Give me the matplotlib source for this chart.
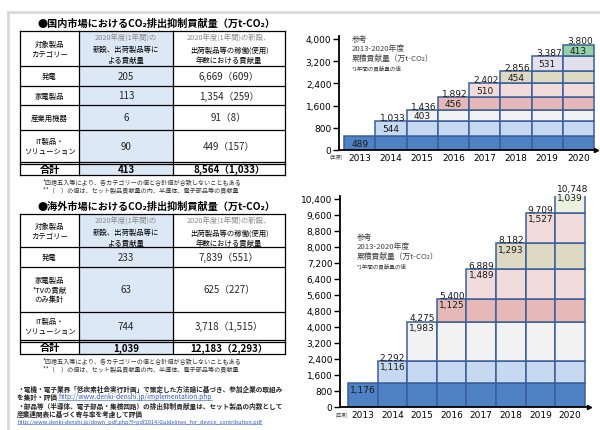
import numpy as np
import matplotlib
matplotlib.use('Agg')
import matplotlib.pyplot as plt
from matplotlib.patches import Rectangle
from matplotlib.lines import Line2D

JP = ['Noto Sans CJK JP', 'DejaVu Sans']
NUM = ['DejaVu Sans']
plt.rcParams['font.family'] = JP

# ---------------- data ----------------
years = ['2013', '2014', '2015', '2016', '2017', '2018', '2019', '2020']
dom_annual = [489, 544, 403, 456, 510, 454, 531, 413]
ovs_annual = [1176, 1116, 1983, 1125, 1489, 1293, 1527, 1039]
dom_yticks = [0, 800, 1600, 2400, 3200, 4000]
ovs_yticks = [0, 800, 1600, 2400, 3200, 4000, 4800, 5600, 6400, 7200, 8000, 8800, 9600, 10400]

dom_colors = ['#4f81c5', '#c6d9f0', '#f2f2f2', '#e6b9b8', '#f2dcdb', '#ddd9c3', '#e4dfec', '#92d2a6']
ovs_colors = ['#4f81c5', '#c6d9f0', '#f2f2f2', '#e6b9b8', '#f2dcdb', '#ddd9c3', '#f2dcdb', '#ebf1de']
edge_color = '#3b5f99'

header_cols = ['対象製品\nカテゴリー',
               ('2020年度(1年間)の', '新設、出荷製品等に\nよる貢献量'),
               ('2020年度(1年間)の新設、', '出荷製品等の稼働(使用)\n年数における貢献量')]

dom_title = '●国内市場におけるCO₂排出抑制貢献量（万t-CO₂）'
dom_cats = ['発電', '家電製品', '産業用機器', 'IT製品・\nソリューション']
dom_new = [205, 113, 6, 90]
dom_life = [6669, 1354, 91, 449]
dom_device = [609, 259, 8, 157]
dom_total = (413, 8564, 1033)

ovs_title = '●海外市場におけるCO₂排出抑制貢献量（万t-CO₂）'
ovs_cats = ['発電', '家電製品\n*TVの貢献\nのみ集計', 'IT製品・\nソリューション']
ovs_new = [233, 63, 744]
ovs_life = [7839, 625, 3718]
ovs_device = [551, 227, 1515]
ovs_total = (1039, 12183, 2293)

foot1 = '*四捨五入等により、各カテゴリーの値と合計値が合致しないこともある'
foot2 = '**（　）の値は、セット製品貢献量の内、半導体、電子部品等の貢献量'
notes = [('・電機・電子業界「低炭素社会実行計画」で策定した方法論に基づき、参加企業の取組み', None),
         ('を集計・評価 ', 'http://www.denki-denshi.jp/implementation.php'),
         ('・部品等（半導体、電子部品・集積回路）の排出抑制貢献量は、セット製品の内数として', None),
         ('産業連関表に基づく寄与率を考慮して評価', None),
         ('', 'http://www.denki-denshi.jp/down_pdf.php?f=pdf2014/Guidelines_for_device_contribution.pdf')]
ref_lines = ['参考', '2013-2020年度', '累積貢献量（万t-CO₂）']
ref_note = '*1年間の貢献量の値'
year_unit = '(年度)'

W, H = 600, 431
fig = plt.figure(figsize=(W / 100, H / 100), dpi=100)
fig.patch.set_facecolor('white')

bg = fig.add_axes([0, 0, 1, 1])
bg.set_xlim(0, W)
bg.set_ylim(H, 0)
bg.axis('off')

# frame
bg.add_line(Line2D([8, W], [13, 13], color='#d9d9d9', lw=2))
bg.add_line(Line2D([8, 8], [13, H], color='#d9d9d9', lw=2))


def fmt(v):
    return f'{v:,}'


def draw_table(title, title_y, rows_y, cats, new, life, device, total):
    xs = [20, 79, 173, 285]
    bg.text(37, title_y, title, fontsize=7.3, fontweight='bold', va='center', ha='left')
    top, bottom = rows_y[0], rows_y[-1]
    bg.add_patch(Rectangle((xs[1], top), xs[2] - xs[1], bottom - top, facecolor='#dce8f5', edgecolor='none'))
    for y in rows_y:
        bg.add_line(Line2D([xs[0], xs[3]], [y, y], color='black', lw=0.9))
    # double line above total
    bg.add_line(Line2D([xs[0], xs[3]], [rows_y[-2] + 1.5, rows_y[-2] + 1.5], color='black', lw=0.9))
    for x in xs:
        bg.add_line(Line2D([x, x], [top, bottom], color='black', lw=0.9))
    # header
    h0, h1 = rows_y[0], rows_y[1]
    hc = (h0 + h1) / 2
    bg.text((xs[0] + xs[1]) / 2, hc, header_cols[0], fontsize=5.3, ha='center', va='center', linespacing=1.3)
    for k, (l1, l2) in enumerate(header_cols[1:]):
        cx = (xs[k + 1] + xs[k + 2]) / 2
        bg.text(cx, h0 + 7, l1, fontsize=5.3, ha='center', va='center', color='#8a8a8a')
        bg.text(cx, h0 + 23.5, l2, fontsize=5.3, ha='center', va='center', linespacing=1.45)
    for i, c in enumerate(cats):
        cy = (rows_y[i + 1] + rows_y[i + 2]) / 2
        bg.text((xs[0] + xs[1]) / 2, cy, c, fontsize=5.3, ha='center', va='center', linespacing=1.3)
        bg.text((xs[1] + xs[2]) / 2, cy, fmt(new[i]), fontsize=7, ha='center', va='center', color='#262626')
        bg.text((xs[2] + xs[3]) / 2, cy, f'{fmt(life[i])}（{fmt(device[i])}）', fontsize=7,
                ha='center', va='center', color='#262626')
    cy = (rows_y[-2] + rows_y[-1]) / 2 + 0.5
    bg.text((xs[0] + xs[1]) / 2, cy, '合計', fontsize=7.3, fontweight='bold', ha='center', va='center')
    bg.text((xs[1] + xs[2]) / 2, cy, fmt(total[0]), fontsize=7, fontweight='bold', ha='center', va='center')
    bg.text((xs[2] + xs[3]) / 2, cy, f'{fmt(total[1])}（{fmt(total[2])}）', fontsize=7,
            fontweight='bold', ha='center', va='center')
    bg.text(43, bottom + 6, foot1, fontsize=4.4, ha='left', va='center', color='#333333')
    bg.text(43, bottom + 14, foot2, fontsize=4.4, ha='left', va='center', color='#333333')


draw_table(dom_title, 24, [32, 67, 87, 106, 131, 163, 176], dom_cats, dom_new, dom_life, dom_device, dom_total)
draw_table(ovs_title, 207, [215, 248, 268, 313, 341, 355], ovs_cats, ovs_new, ovs_life, ovs_device, ovs_total)

url_texts = []
note_y = [389, 397, 406, 414, 423]
for (txt, url), y in zip(notes, note_y):
    t = bg.text(17, y, txt, fontsize=4.8, ha='left', va='center', color='#262626', fontweight='bold')
    if url:
        if txt:
            fig.canvas.draw()
            bb = t.get_window_extent()
            u = bg.text(bb.x1, H - y, url, fontsize=4.8, ha='left', va='center', color='#2f5bd0',
                        transform=None)
        else:
            u = bg.text(17, y, url, fontsize=4.0, ha='left', va='center', color='#2f5bd0')
        url_texts.append(u)


def px_axes(x0, y0, x1, y1):
    return fig.add_axes([x0 / W, 1 - y1 / H, (x1 - x0) / W, (y1 - y0) / H])


def draw_chart(ax, annual, colors, yticks, ylim, xlim, style):
    cum = np.cumsum(annual)
    xs = np.arange(len(years))
    for i in xs:
        for j in range(i + 1):
            ax.bar(i, annual[j], bottom=cum[j] - annual[j], width=1, color=colors[j],
                   edgecolor=edge_color, linewidth=1.1, zorder=2)
    for i in xs:
        if style == 'center':
            ax.text(i, cum[i] - annual[i] / 2, fmt(annual[i]), fontsize=6.5, family=NUM,
                    ha='center', va='center', color='#1a1a1a', zorder=4)
            if i > 0:
                ax.text(i + 0.05, cum[i] - 30, fmt(int(cum[i])), fontsize=6.5, family=NUM,
                        ha='center', va='bottom', color='#1a1a1a', zorder=4)
        else:
            ax.text(i - 0.43, cum[i] - 60, fmt(annual[i]), fontsize=6.5, family=NUM,
                    ha='left', va='top', color='#1a1a1a', zorder=4)
            if i > 0:
                ax.text(i - 0.43, cum[i] - 40, fmt(int(cum[i])), fontsize=6.5, family=NUM,
                        ha='left', va='bottom', color='#1a1a1a', zorder=4)
    ax.set_xlim(*xlim)
    ax.set_ylim(*ylim)
    ax.set_xticks(xs)
    ax.set_xticklabels(years, family=NUM, fontsize=6.5)
    ax.set_yticks(yticks)
    ax.set_yticklabels([fmt(v) for v in yticks], family=NUM, fontsize=6.5)
    ax.tick_params(axis='x', length=0, pad=2.5)
    ax.tick_params(axis='y', length=4, width=1, pad=1.5, direction='out')
    for s in ['top', 'right']:
        ax.spines[s].set_visible(False)
    ax.spines['left'].set_linewidth(1.3)
    ax.spines['bottom'].set_linewidth(1.3)
    ax.spines['left'].set_zorder(5)
    ax.spines['bottom'].set_zorder(5)
    ax.plot(1, 0, marker='>', color='black', markersize=3, transform=ax.transAxes, clip_on=False, zorder=6)
    ax.patch.set_alpha(0)


ax1 = px_axes(339, 37, 596, 151)
draw_chart(ax1, dom_annual, dom_colors, dom_yticks, (0, 4108), (-0.66, 7.56), 'center')
ax2 = px_axes(340, 197, 589, 408)
draw_chart(ax2, ovs_annual, ovs_colors, ovs_yticks, (0, 10550), (-0.77, 7.64), 'left')

for x0, y0 in [(352, 40), (357, 238)]:
    for k, line in enumerate(ref_lines):
        bg.text(x0, y0 + 9.5 * k, line, fontsize=5.6, ha='left', va='center', color='#404040')
    bg.text(x0, y0 + 28, ref_note, fontsize=4.0, ha='left', va='center', color='#404040')

bg.text(336, 157.5, year_unit, fontsize=3.6, ha='center', va='center', color='#404040')
bg.text(342, 415, year_unit, fontsize=3.4, ha='center', va='center', color='#404040')

# underline URLs
fig.canvas.draw()
for u in url_texts:
    bb = u.get_window_extent()
    fig.add_artist(Line2D([bb.x0 / W, bb.x1 / W], [(bb.y0 + 0.3) / H, (bb.y0 + 0.3) / H],
                          color='#2f5bd0', lw=0.4, transform=fig.transFigure))

fig.savefig('out.png', dpi=100, facecolor='white')
